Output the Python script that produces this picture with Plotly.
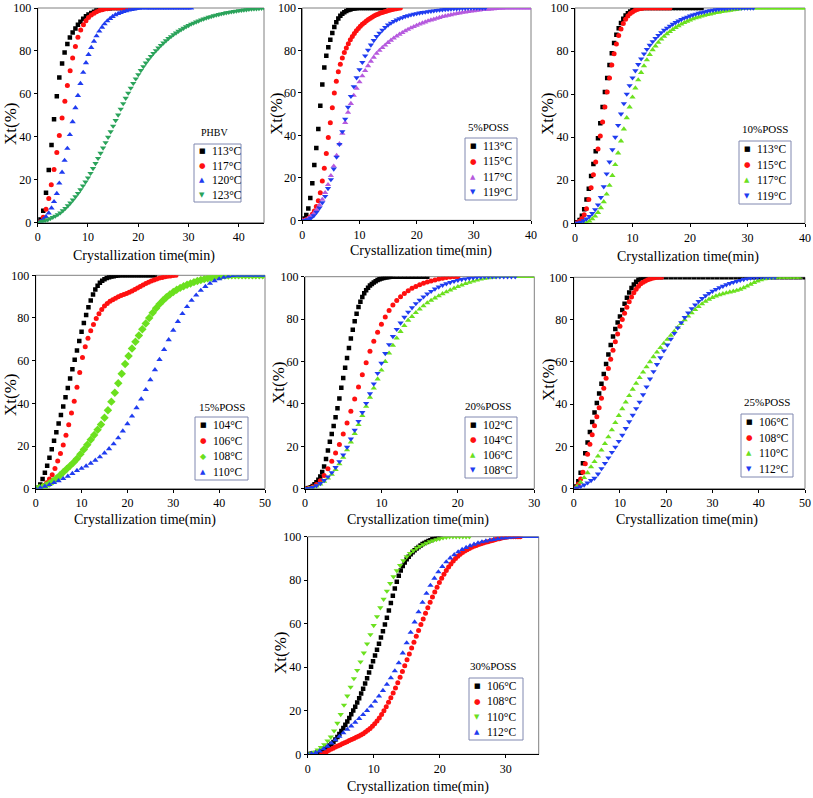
import plotly.graph_objects as go

# ---------------- shared time grids (min) ----------------
G05 = [0, 0.5, 1, 1.5, 2, 2.5, 3, 3.5, 4, 4.5, 5, 5.5, 6, 6.5, 7, 7.5, 8, 8.5, 9, 9.5,
       10, 10.5, 11, 11.5, 12, 12.5, 13, 13.5, 14, 14.5, 15, 15.5, 16, 16.5, 17, 17.5, 18, 18.5, 19, 19.5,
       20, 20.5, 21, 21.5, 22, 22.5, 23, 23.5, 24, 24.5, 25, 25.5, 26, 26.5, 27, 27.5, 28, 28.5, 29, 29.5,
       30, 30.5, 31, 31.5, 32, 32.5, 33, 33.5, 34, 34.5, 35, 35.5, 36, 36.5, 37, 37.5, 38, 38.5, 39, 39.5,
       40, 40.5, 41, 41.5, 42, 42.5, 43, 43.5, 44, 44.5, 45, 45.5, 46, 46.5, 47, 47.5, 48, 48.5, 49, 49.5, 50]
G035 = [0, 0.35, 0.7, 1.05, 1.4, 1.75, 2.1, 2.45, 2.8, 3.15, 3.5, 3.85, 4.2, 4.55, 4.9, 5.25, 5.6, 5.95,
        6.3, 6.65, 7.0, 7.35, 7.7, 8.05, 8.4, 8.75, 9.1, 9.45, 9.8, 10.15, 10.5, 10.85, 11.2, 11.55, 11.9,
        12.25, 12.6, 12.95, 13.3, 13.65, 14.0, 14.35, 14.7, 15.05, 15.4, 15.75, 16.1, 16.45, 16.8, 17.15]
G04 = [0, 0.4, 0.8, 1.2, 1.6, 2.0, 2.4, 2.8, 3.2, 3.6, 4.0, 4.4, 4.8, 5.2, 5.6, 6.0, 6.4, 6.8, 7.2, 7.6,
       8.0, 8.4, 8.8, 9.2, 9.6, 10.0, 10.4, 10.8, 11.2, 11.6, 12.0]
G075 = [0, 0.75, 1.5, 2.25, 3.0, 3.75, 4.5, 5.25, 6.0, 6.75, 7.5, 8.25, 9.0, 9.75, 10.5, 11.25, 12.0,
        12.75, 13.5, 14.25, 15.0, 15.75, 16.5, 17.25, 18.0, 18.75, 19.5, 20.25, 21.0, 21.75, 22.5, 23.25,
        24.0, 24.75, 25.5, 26.25, 27.0, 27.75, 28.5, 29.25, 30.0, 30.75, 31.5, 32.25, 33.0, 33.75, 34.5,
        35.25, 36.0, 36.75, 37.5, 38.25, 39.0, 39.75, 40.5, 41.25, 42.0, 42.75, 43.5, 44.25, 45.0, 45.75,
        46.5, 47.25, 48.0, 48.75, 49.5]
G1 = [0, 1, 2, 3, 4, 5, 6, 7, 8, 9, 10, 11, 12, 13, 14, 15, 16, 17, 18, 19, 20, 21, 22, 23, 24, 25,
      26, 27, 28, 29, 30, 31, 32, 33, 34, 35, 36, 37, 38, 39, 40, 41, 42, 43, 44, 45, 46, 47, 48, 49, 50]
G025 = [0, 0.25, 0.5, 0.75, 1.0, 1.25, 1.5, 1.75, 2.0, 2.25, 2.5, 2.75, 3.0, 3.25, 3.5, 3.75, 4.0, 4.25,
        4.5, 4.75, 5.0, 5.25, 5.5, 5.75, 6.0, 6.25, 6.5, 6.75, 7.0, 7.25, 7.5, 7.75, 8.0, 8.25, 8.5, 8.75,
        9.0, 9.25, 9.5, 9.75, 10.0, 10.25, 10.5, 10.75, 11.0, 11.25, 11.5]
G03 = [0, 0.3, 0.6, 0.9, 1.2, 1.5, 1.8, 2.1, 2.4, 2.7, 3.0, 3.3, 3.6, 3.9, 4.2, 4.5, 4.8, 5.1, 5.4, 5.7,
       6.0, 6.3, 6.6, 6.9, 7.2, 7.5, 7.8, 8.1, 8.4, 8.7, 9.0, 9.3, 9.6, 9.9, 10.2, 10.5, 10.8, 11.1, 11.4,
       11.7, 12.0, 12.3, 12.6, 12.9, 13.2, 13.5, 13.8, 14.1, 14.4, 14.7, 15.0, 15.3, 15.6, 15.9, 16.2,
       16.5, 16.8, 17.1, 17.4, 17.7, 18.0, 18.3, 18.6, 18.9, 19.2, 19.5, 19.8, 20.1]
G06 = [0, 0.6, 1.2, 1.8, 2.4, 3.0, 3.6, 4.2, 4.8, 5.4, 6.0, 6.6, 7.2, 7.8, 8.4, 9.0, 9.6, 10.2, 10.8,
       11.4, 12.0, 12.6, 13.2, 13.8, 14.4, 15.0, 15.6, 16.2, 16.8, 17.4, 18.0, 18.6, 19.2, 19.8, 20.4,
       21.0, 21.6, 22.2, 22.8, 23.4, 24.0, 24.6, 25.2, 25.8, 26.4, 27.0, 27.6, 28.2, 28.8, 29.4, 30.0,
       30.6, 31.2, 31.8, 32.4, 33.0, 33.6, 34.2, 34.8]

# ---------------- Panel 1: PHBV ----------------
phbv_113_t = [0, 0.55, 1.1, 1.65, 2.2, 2.75, 3.25, 3.8, 4.3, 4.85, 5.35, 5.9, 6.4, 6.95, 7.5, 8.0, 8.5,
              9.05, 9.6, 10.1, 10.65, 11.2, 11.7, 12.25, 12.8, 13.3, 13.85, 14.4, 14.9, 15.5, 16.0, 16.5,
              17.0, 17.5, 18.0, 18.5, 19.0]
phbv_113_y = [0, 1.5, 5.6, 13.9, 24.6, 36.2, 48.2, 58.9, 67.6, 74.2, 79.3, 83.2, 86.3, 88.6, 90.5, 92.2,
              93.6, 95.0, 96.1, 97.0, 97.7, 98.3, 98.8, 99.2, 99.5, 99.7, 99.8, 99.9, 100, 100, 100, 100,
              100, 100, 100, 100, 100]
phbv_117_t = [0, 0.55, 1.1, 1.65, 2.2, 2.7, 3.25, 3.8, 4.3, 4.85, 5.4, 5.9, 6.45, 6.95, 7.5, 8.0, 8.55,
              9.1, 9.6, 10.1, 10.65, 11.2, 11.7, 12.25, 12.8, 13.3, 13.85, 14.4, 15.0, 15.5, 16.0, 16.5,
              17.0, 17.5, 18.0, 18.5]
phbv_117_y = [0, 0.5, 2.5, 6.3, 11.3, 17.7, 24.8, 32.7, 40.6, 48.8, 56.6, 63.9, 70.8, 76.7, 82.1, 86.4,
              89.7, 92.2, 94.1, 95.6, 96.7, 97.6, 98.3, 98.8, 99.2, 99.5, 99.7, 99.85, 100, 100, 100, 100,
              100, 100, 100, 100]
phbv_120_t = [0, 0.55, 1.1, 1.65, 2.2, 2.75, 3.25, 3.8, 4.3, 4.85, 5.35, 5.9, 6.4, 6.95, 7.5, 8.0, 8.5,
              9.05, 9.6, 10.1, 10.65, 11.2, 11.7, 12.25, 12.8, 13.3, 13.85, 14.4, 14.9, 15.45, 16.0, 16.5,
              17.05, 17.6, 18.1, 18.65, 19.2, 19.7, 20.25, 20.8, 21.5, 22.0, 22.5, 23.0, 23.5, 24.0, 24.5,
              25.0, 25.5, 26.0, 26.5, 27.0, 27.5, 28.0, 28.5, 29.0, 29.5, 30.0, 30.5]
phbv_120_y = [0, 0.6, 1.5, 2.8, 4.5, 6.8, 9.8, 13.6, 18.4, 23.5, 29, 34.6, 41, 47, 53.5, 59.2, 64.8, 70,
              74.5, 78.3, 81.6, 84.5, 87, 89.2, 91, 92.6, 94, 95.1, 96, 96.8, 97.4, 97.9, 98.3, 98.7, 99,
              99.3, 99.5, 99.7, 99.8, 99.9, 100, 100, 100, 100, 100, 100, 100, 100, 100, 100, 100, 100,
              100, 100, 100, 100, 100, 100, 100]
phbv_123_t = G05[:91]
phbv_123_y = [0, 0.3, 0.6, 1.0, 1.4, 1.9, 2.5, 3.1, 3.8, 4.6, 5.6, 6.7, 7.9, 9.2, 10.6, 12.1, 13.7, 15.4,
              17.2, 19.0, 20.9, 23.0, 25.3, 27.6, 30.0, 32.4, 34.8, 37.3, 39.8, 42.4, 45.0, 47.6, 50.2,
              52.9, 55.5, 58.0, 60.4, 62.7, 64.9, 67.0, 69.0, 70.9, 72.7, 74.4, 76.0, 77.5, 78.9, 80.2,
              81.4, 82.6, 83.7, 84.8, 85.8, 86.7, 87.6, 88.4, 89.2, 89.9, 90.6, 91.3, 91.9, 92.5, 93.0,
              93.5, 94.0, 94.5, 94.9, 95.3, 95.7, 96.0, 96.4, 96.7, 97.0, 97.3, 97.5, 97.8, 98.0, 98.2,
              98.4, 98.6, 98.8, 98.9, 99.1, 99.2, 99.4, 99.5, 99.6, 99.7, 99.8, 99.9, 100]

# ---------------- Panel 2: 5%POSS ----------------
p5_113_t = G035[:42]
p5_113_y = [0, 0.8, 2.5, 5.5, 10.5, 17.5, 26, 34, 43, 54, 64, 72, 77.5, 81.5, 85, 88.2, 91, 93.3, 95.0,
            96.3, 97.3, 98.0, 98.6, 99.0, 99.3, 99.6, 99.8, 99.9, 100, 100, 100, 100, 100, 100, 100, 100,
            100, 100, 100, 100, 100, 100]
p5_115_t = G035[:50]
p5_115_y = [0, 0, 0.3, 0.8, 1.6, 2.8, 4.4, 6.5, 9.2, 13, 18.5, 24.5, 31.5, 39, 46, 53, 60, 65.5, 70, 73.5,
            76.5, 79, 81.2, 83.2, 85, 86.6, 88, 89.3, 90.4, 91.4, 92.3, 93.1, 93.9, 94.6, 95.2, 95.8, 96.3,
            96.8, 97.2, 97.6, 97.9, 98.2, 98.5, 98.8, 99.0, 99.3, 99.5, 99.7, 99.9, 100]
p5_117_t = G05[:81]
p5_117_y = [0, 0.2, 0.8, 1.8, 3.2, 5.0, 7.2, 9.8, 13.0, 16.8, 21.0, 25.5, 30.5, 36.0, 41.0, 46.0, 50.8,
            55.0, 58.8, 62.2, 65.2, 68.0, 70.5, 72.8, 74.9, 76.8, 78.6, 80.0, 81.3, 82.5, 83.7, 84.8, 85.8,
            86.7, 87.6, 88.4, 89.2, 89.9, 90.6, 91.2, 91.8, 92.4, 92.9, 93.4, 93.9, 94.3, 94.7, 95.1, 95.5,
            95.9, 96.2, 96.5, 96.8, 97.1, 97.4, 97.6, 97.9, 98.1, 98.3, 98.5, 98.7, 98.9, 99.0, 99.2, 99.3,
            99.4, 99.5, 99.6, 99.7, 99.8, 99.85, 99.9, 99.95, 100, 100, 100, 100, 100, 100, 100, 100]
p5_119_t = G05[:65]
p5_119_y = [0, 0, 0.3, 1.0, 2.2, 3.8, 5.8, 8.3, 11.3, 15.0, 19.2, 24.2, 29.8, 35.8, 41.8, 47.7, 53.3,
            58.4, 63.0, 67.2, 71.0, 74.4, 77.5, 80.2, 82.6, 84.7, 86.6, 88.2, 89.6, 90.9, 92.0, 92.9, 93.7,
            94.4, 95.0, 95.5, 96.0, 96.4, 96.8, 97.1, 97.4, 97.7, 97.9, 98.1, 98.3, 98.5, 98.7, 98.9, 99.0,
            99.2, 99.3, 99.4, 99.5, 99.6, 99.7, 99.8, 99.85, 99.9, 100, 100, 100, 100, 100, 100, 100]

# ---------------- Panel 3: 10%POSS ----------------
p10_113_t = G04[:30] + G05[24:45]
p10_113_y = [0, 0.5, 1.5, 3.5, 6.5, 11, 16, 22, 27.5, 33.5, 39.5, 46.5, 54, 61, 67.5, 73.5, 79, 83.8,
             87.6, 90.6, 93.0, 95.0, 96.5, 97.6, 98.4, 99.0, 99.4, 99.7, 99.9, 100,
             100, 100, 100, 100, 100, 100, 100, 100, 100, 100, 100, 100, 100, 100, 100, 100, 100, 100,
             100, 100, 100]
p10_115_t = G04[:31] + G05[25:34]
p10_115_y = [0, 0.3, 1.0, 2.2, 4.0, 6.8, 11, 16.5, 22.5, 28.5, 34.5, 40.5, 47, 54, 61, 67.5, 73.5, 78.8,
             83.3, 87.2, 90.3, 92.8, 94.8, 96.3, 97.4, 98.2, 98.8, 99.3, 99.6, 99.8, 100,
             100, 100, 100, 100, 100, 100, 100, 100, 100]
p10_117_t = G05[3:81]
p10_117_y = [0, 0.3, 1.0, 2.0, 3.3, 5.0, 7.2, 10.0, 13.5, 17.6, 22.2, 27.2, 32.6, 38.2, 43.8, 49.0, 54.0,
             58.6, 62.8, 66.6, 70.0, 73.1, 75.9, 78.4, 80.6, 82.3, 84.0, 85.5, 86.8, 88.0, 89.0, 90.0,
             90.9, 91.7, 92.5, 93.2, 93.8, 94.4, 94.9, 95.4, 95.8, 96.2, 96.6, 96.9, 97.2, 97.5, 97.8,
             98.0, 98.3, 98.5, 98.7, 98.9, 99.1, 99.3, 99.5, 99.7, 99.8, 99.9, 100, 100, 100, 100, 100,
             100, 100, 100, 100, 100, 100, 100, 100, 100, 100, 100, 100, 100, 100, 100]
p10_119_t = G05[:63]
p10_119_y = [0, 0.2, 0.6, 1.2, 2.0, 3.2, 4.6, 6.4, 8.6, 12, 17, 23, 28.5, 34.2, 40, 45.5, 50.8, 55.6, 60,
             64, 67.6, 70.9, 73.8, 76.4, 78.7, 80.8, 82.7, 84.4, 85.9, 87.3, 88.6, 89.7, 90.7, 91.6, 92.5,
             93.3, 94.0, 94.7, 95.3, 95.8, 96.3, 96.8, 97.2, 97.6, 97.9, 98.2, 98.5, 98.8, 99.0, 99.2,
             99.4, 99.6, 99.7, 99.8, 99.9, 100, 100, 100, 100, 100, 100, 100, 100]

# ---------------- Panel 4: 15%POSS ----------------
p15_104_t = G05[:53]
p15_104_y = [0, 0.5, 2.0, 4.5, 7.5, 10.8, 14.5, 18.5, 22.5, 26.5, 30.5, 34.5, 38.5, 42.8, 47.2, 51.6,
             56.0, 60.4, 64.8, 69.2, 73.5, 77.6, 81.4, 85.0, 88.2, 91.0, 93.3, 95.1, 96.5, 97.5, 98.2,
             98.7, 99.1, 99.4, 99.6, 99.8, 99.9, 100, 100, 100, 100, 100, 100, 100, 100, 100, 100, 100,
             100, 100, 100, 100, 100]
p15_106_t = G06[:52]
p15_106_y = [0, 0.2, 0.6, 1.5, 2.8, 4.5, 6.5, 9.5, 13, 16.5, 20.5, 25, 30, 35.5, 41, 47.5, 54.5, 61.5,
             66.5, 70.5, 74, 77, 79.7, 82, 84, 85.6, 86.8, 87.8, 88.6, 89.3, 89.9, 90.5, 91.0, 91.5, 92.0,
             92.6, 93.3, 94.0, 94.8, 95.5, 96.1, 96.7, 97.3, 97.8, 98.3, 98.7, 99.0, 99.3, 99.5, 99.7,
             99.9, 100]
p15_108_t = G075[:67]
p15_108_y = [0, 0.3, 0.8, 1.5, 2.4, 3.5, 4.8, 6.2, 7.7, 9.2, 10.7, 12.3, 14.0, 16.2, 18.4, 20.6, 22.9,
             25.2, 27.6, 30.1, 33.2, 36.8, 40.8, 45.0, 49.4, 53.9, 58.4, 62.2, 65.7, 68.9, 71.8, 74.7,
             77.4, 80.0, 82.4, 84.6, 86.5, 88.2, 89.7, 91.0, 92.2, 93.2, 94.1, 94.9, 95.6, 96.2, 96.8,
             97.3, 97.8, 98.2, 98.6, 98.9, 99.2, 99.5, 99.7, 99.85, 99.95, 100, 100, 100, 100, 100, 100,
             100, 100, 100, 100]
p15_110_t = G1[:51]
p15_110_y = [0, 0.4, 1.1, 1.9, 2.8, 3.7, 4.7, 5.8, 7.1, 8.5, 9.5, 10.6, 11.9, 13.3, 14.9, 16.7, 18.7,
             21.0, 23.8, 27.0, 30.4, 34.0, 37.9, 42.0, 46.4, 51.0, 55.7, 60.5, 65.2, 69.8, 74.2, 78.3,
             82.0, 85.3, 88.2, 90.7, 92.9, 94.7, 96.2, 97.4, 98.3, 99.0, 99.5, 99.8, 99.95, 100, 100, 100,
             100, 100, 100]

# ---------------- Panel 5: 20%POSS ----------------
p20_102_t = G025[:47] + G05[24:33]
p20_102_y = [0, 0.1, 0.3, 0.7, 1.3, 2.1, 3.0, 4.2, 5.8, 7.9, 10.5, 14.0, 18.0, 22.2, 25.8, 29.6, 33.7,
             38.0, 42.6, 47.6, 52.2, 57.0, 61.7, 66.4, 70.8, 75.0, 79.0, 82.5, 85.7, 88.2, 90.4, 92.2,
             93.6, 94.8, 95.8, 96.6, 97.3, 97.9, 98.4, 98.8, 99.1, 99.4, 99.6, 99.75, 99.85, 99.95, 100,
             100, 100, 100, 100, 100, 100, 100, 100, 100]
p20_104_t = G05[:41]
p20_104_y = [0, 0.2, 0.8, 2.0, 3.8, 6.2, 9.4, 13.0, 16.8, 20.8, 25.8, 31.0, 36.5, 42.3, 48.0, 53.8, 59.4,
             64.8, 69.6, 73.8, 77.6, 81.0, 84.0, 86.6, 88.8, 90.6, 92.1, 93.4, 94.5, 95.4, 96.2, 96.9,
             97.5, 98.0, 98.5, 98.9, 99.3, 99.6, 99.8, 100, 100]
p20_106_t = G05[:61]
p20_106_y = [0, 0.1, 0.5, 1.2, 2.2, 3.5, 5.0, 6.8, 9.0, 11.7, 14.8, 18.3, 22.0, 26.0, 30.2, 34.5, 38.8,
             43.1, 47.4, 51.7, 55.9, 60.0, 63.9, 67.6, 71.0, 74.1, 76.9, 79.4, 81.2, 83.0, 84.7, 86.2,
             87.6, 88.8, 89.9, 90.9, 91.9, 92.8, 93.7, 94.5, 95.3, 96.0, 96.7, 97.3, 97.9, 98.4, 98.8,
             99.2, 99.5, 99.7, 99.9, 100, 100, 100, 100, 100, 100, 100, 100, 100, 100]
p20_108_t = G05[:56]
p20_108_y = [0, 0.1, 0.6, 1.4, 2.5, 3.9, 5.6, 7.6, 10.0, 12.8, 16.0, 19.6, 23.5, 27.6, 31.8, 36.0, 40.3,
             44.8, 49.5, 54.4, 59.2, 63.8, 68.0, 71.8, 75.2, 78.2, 80.9, 83.3, 85.4, 87.3, 89.0, 90.5,
             91.9, 93.1, 94.2, 95.2, 96.0, 96.7, 97.3, 97.8, 98.3, 98.7, 99.0, 99.3, 99.5, 99.7, 99.85,
             100, 100, 100, 100, 100, 100, 100, 100, 100]

# ---------------- Panel 6: 25%POSS ----------------
p25_106_t = G05[:32] + G1[16:51]
p25_106_y = [0, 1.0, 3.5, 7.5, 12.0, 16.8, 21.8, 26.8, 31.5, 36.0, 40.5, 45.0, 49.6, 54.2, 59.0, 63.5,
             68.0, 72.0, 75.5, 78.6, 81.5, 84.5, 87.5, 90.3, 92.8, 94.9, 96.6, 97.9, 98.9, 99.5, 99.9, 100,
             100, 100, 100, 100, 100, 100, 100, 100, 100, 100, 100, 100, 100, 100, 100, 100, 100, 100,
             100, 100, 100, 100, 100, 100, 100, 100, 100, 100, 100, 100, 100, 100, 100, 100, 100]
p25_108_t = G05[:39]
p25_108_y = [0, 0.6, 2.2, 4.6, 7.8, 11.8, 16.3, 21.0, 25.5, 29.8, 34.0, 38.3, 42.8, 47.5, 52.2, 56.8,
             61.2, 65.5, 69.5, 73.2, 76.8, 80.0, 83.0, 85.8, 88.4, 90.7, 92.7, 94.4, 95.8, 96.9, 97.7,
             98.3, 98.8, 99.2, 99.5, 99.8, 100, 100, 100]
p25_110_t = G075[:66]
p25_110_y = [0, 1.2, 3.0, 5.2, 7.5, 10.3, 12.8, 15.4, 18.2, 21.3, 24.5, 27.8, 31.2, 34.6, 37.8, 40.9,
             44.0, 47.0, 49.8, 52.5, 55.1, 57.6, 60.0, 62.4, 64.6, 66.7, 68.7, 70.6, 72.5, 74.4, 76.3,
             78.1, 79.9, 81.6, 83.2, 84.7, 86.1, 87.4, 88.6, 89.6, 90.4, 91.1, 91.7, 92.2, 92.6, 93.0,
             93.4, 93.8, 94.3, 95.0, 95.8, 96.7, 97.5, 98.2, 98.8, 99.2, 99.5, 99.7, 99.85, 99.95, 100,
             100, 100, 100, 100, 100]
p25_112_t = G075[:59]
p25_112_y = [0, 0.4, 1.0, 1.8, 2.8, 3.9, 5.0, 7.0, 9.5, 12.0, 14.6, 17.2, 19.7, 22.4, 25.3, 28.5, 31.7,
             34.8, 37.9, 41.0, 44.5, 48.2, 51.9, 55.4, 58.8, 62.0, 65.2, 68.0, 70.8, 73.5, 76.1, 78.6,
             81.0, 83.2, 85.2, 87.0, 88.6, 90.0, 91.3, 92.4, 93.4, 94.3, 95.1, 95.8, 96.5, 97.1, 97.6,
             98.1, 98.6, 99.0, 99.4, 99.7, 99.9, 100, 100, 100, 100, 100, 100]

# ---------------- Panel 7: 30%POSS ----------------
p30_106_t = G03[:68]
p30_106_y = [0, 0.1, 0.2, 0.4, 0.6, 0.9, 1.2, 1.6, 2.0, 2.6, 3.3, 4.0, 4.8, 5.7, 6.8, 8.0, 9.3, 10.7,
             12.1, 13.6, 15.1, 16.7, 18.4, 20.1, 21.9, 23.8, 25.8, 27.9, 30.1, 32.5, 35.0, 37.6, 40.2,
             42.8, 45.4, 48.1, 50.8, 53.7, 56.6, 59.6, 62.8, 66.1, 69.5, 72.9, 76.2, 79.3, 82.1, 84.5,
             86.5, 88.2, 89.6, 90.8, 91.9, 92.9, 93.8, 94.6, 95.3, 96.0, 96.6, 97.1, 97.6, 98.0, 98.4,
             98.8, 99.1, 99.4, 99.7, 100]
p30_108_t = [2.1, 2.45, 2.8, 3.15, 3.5, 3.85, 4.2, 4.55, 4.9, 5.25, 5.6, 5.95, 6.3, 6.65, 7.0, 7.35, 7.7,
             8.05, 8.4, 8.75, 9.1, 9.45, 9.8, 10.15, 10.5, 10.85, 11.2, 11.55, 11.9, 12.25, 12.6, 12.95,
             13.3, 13.65, 14.0, 14.35, 14.7, 15.05, 15.4, 15.75, 16.1, 16.45, 16.8, 17.15, 17.5, 17.85,
             18.2, 18.55, 18.9, 19.25, 19.6, 19.95, 20.3, 20.65, 21.0, 21.35, 21.7, 22.05, 22.4, 22.75,
             23.1, 23.45, 23.8, 24.15, 24.5, 24.85, 25.2, 25.55, 25.9, 26.25, 26.6, 26.95, 27.3, 27.65,
             28.0, 28.35, 28.7, 29.05, 29.4, 29.75, 30.1, 30.45, 30.8, 31.15, 31.5, 31.85, 32.2]
p30_108_y = [0, 0.5, 1.1, 1.7, 2.3, 2.8, 3.3, 3.8, 4.3, 4.8, 5.3, 5.8, 6.3, 6.8, 7.3, 7.8, 8.3, 8.9, 9.5,
             10.2, 11.0, 11.9, 12.9, 14.0, 15.3, 16.7, 18.3, 20.0, 21.9, 23.9, 26.0, 28.2, 30.5, 32.9,
             35.4, 38.0, 40.7, 43.4, 46.1, 48.8, 51.5, 54.2, 56.9, 59.6, 62.2, 64.8, 67.4, 69.9, 72.3,
             74.6, 76.8, 78.9, 80.9, 82.8, 84.5, 86.1, 87.5, 88.8, 90.0, 91.0, 91.9, 92.7, 93.4, 94.0,
             94.6, 95.1, 95.6, 96.0, 96.4, 96.8, 97.1, 97.4, 97.7, 98.0, 98.3, 98.6, 98.9, 99.1, 99.4,
             99.6, 99.8, 100, 100, 100, 100, 100, 100]
p30_110_t = G05[:50]
p30_110_y = [0, 0.3, 1.0, 2.0, 3.2, 4.5, 6.2, 8.0, 10.8, 14.3, 18.3, 22.6, 26.8, 30.9, 34.8, 38.6, 42.5,
             46.6, 50.8, 55.0, 59.2, 63.3, 67.4, 71.3, 75.0, 78.5, 81.6, 84.4, 86.8, 89.0, 90.8, 92.3,
             93.6, 94.7, 95.6, 96.4, 97.1, 97.7, 98.2, 98.7, 99.1, 99.5, 99.8, 100, 100, 100, 100, 100,
             100, 100]
p30_112_t = G06[:59]
p30_112_y = [0, 0.2, 0.7, 1.5, 2.5, 3.7, 5.1, 6.6, 8.2, 9.8, 11.4, 13.0, 14.7, 16.4, 18.2, 20.1, 22.1,
             24.3, 26.7, 29.3, 32.1, 35.1, 38.3, 42.0, 46.5, 51.2, 56.0, 60.8, 65.4, 69.8, 73.9, 77.6,
             80.9, 83.8, 86.3, 88.4, 90.2, 91.7, 93.0, 94.1, 95.0, 95.8, 96.5, 97.1, 97.6, 98.0, 98.4,
             98.7, 99.0, 99.3, 99.5, 99.7, 99.85, 100, 100, 100, 100, 100, 100]

# ---------------- panel labels / axis ranges ----------------
panel_titles = ["PHBV", "5%POSS", "10%POSS", "15%POSS", "20%POSS", "25%POSS", "30%POSS"]
x_max = [45, 40, 40, 50, 30, 50, 35]
y_ticks = [0, 20, 40, 60, 80, 100]
x_title = "Crystallization time(min)"
y_title = "Xt(%)"

BLACK, RED, BLUE = "#000000", "#ff1010", "#1f3cf0"
TEAL, VIOLET, LIME = "#2aa35a", "#b65ade", "#6be01e"

series = [
    # (panel, name, t, y, color, symbol)
    (0, "113°C", phbv_113_t, phbv_113_y, BLACK, "square"),
    (0, "117°C", phbv_117_t, phbv_117_y, RED, "circle"),
    (0, "120°C", phbv_120_t, phbv_120_y, BLUE, "triangle-up"),
    (0, "123°C", phbv_123_t, phbv_123_y, TEAL, "triangle-down"),
    (1, "113°C", p5_113_t, p5_113_y, BLACK, "square"),
    (1, "115°C", p5_115_t, p5_115_y, RED, "circle"),
    (1, "117°C", p5_117_t, p5_117_y, VIOLET, "triangle-up"),
    (1, "119°C", p5_119_t, p5_119_y, BLUE, "triangle-down"),
    (2, "113°C", p10_113_t, p10_113_y, BLACK, "square"),
    (2, "115°C", p10_115_t, p10_115_y, RED, "circle"),
    (2, "117°C", p10_117_t, p10_117_y, LIME, "triangle-up"),
    (2, "119°C", p10_119_t, p10_119_y, BLUE, "triangle-down"),
    (3, "104°C", p15_104_t, p15_104_y, BLACK, "square"),
    (3, "106°C", p15_106_t, p15_106_y, RED, "circle"),
    (3, "108°C", p15_108_t, p15_108_y, LIME, "diamond"),
    (3, "110°C", p15_110_t, p15_110_y, BLUE, "triangle-up"),
    (4, "102°C", p20_102_t, p20_102_y, BLACK, "square"),
    (4, "104°C", p20_104_t, p20_104_y, RED, "circle"),
    (4, "106°C", p20_106_t, p20_106_y, LIME, "triangle-up"),
    (4, "108°C", p20_108_t, p20_108_y, BLUE, "triangle-down"),
    (5, "106°C", p25_106_t, p25_106_y, BLACK, "square"),
    (5, "108°C", p25_108_t, p25_108_y, RED, "circle"),
    (5, "110°C", p25_110_t, p25_110_y, LIME, "triangle-up"),
    (5, "112°C", p25_112_t, p25_112_y, BLUE, "triangle-down"),
    (6, "106°C", p30_106_t, p30_106_y, BLACK, "square"),
    (6, "108°C", p30_108_t, p30_108_y, RED, "circle"),
    (6, "110°C", p30_110_t, p30_110_y, LIME, "triangle-down"),
    (6, "112°C", p30_112_t, p30_112_y, BLUE, "triangle-up"),
]

MARKER_SIZE = {"square": 4.5, "circle": 5, "triangle-up": 5.5, "triangle-down": 5.5, "diamond": 6.5}
GLYPH = {"square": "■", "circle": "●", "triangle-up": "▲", "triangle-down": "▼", "diamond": "◆"}
GLYPH_SIZE = {"square": 7, "circle": 7.5, "triangle-up": 7, "triangle-down": 7, "diamond": 8}

# ---------------- layout geometry (pixels in 813 x 798) ----------------
W, H = 813, 798
plot_px = [  # left, right, top, bottom
    (37.7, 264.0, 8.0, 222.7),
    (302.3, 531.0, 8.0, 220.3),
    (575.0, 805.0, 8.0, 223.3),
    (35.7, 265.0, 275.3, 488.7),
    (305.0, 534.3, 276.7, 488.7),
    (573.7, 805.0, 277.3, 488.7),
    (307.7, 538.7, 536.7, 754.3),
]
legend_box = [(194, 144, 241, 202), (465, 138, 517, 200), (739, 141, 791, 204),
              (195, 417, 248, 480), (465, 417, 517, 478), (741, 414, 793, 477), (469, 678, 523, 740)]
title_px = [(214, 132), (489, 127), (765, 129), (222, 407), (488, 406), (767, 402), (493, 666)]
ytitle_px = [(10, 124), (277, 114), (548, 114), (10, 395), (278, 383), (548, 380), (280, 653)]
xtitle_px = [(144, 256), (421, 251), (688, 256.5), (145, 520), (418, 520), (687, 520), (418, 787)]

FONT = "Liberation Serif, Times New Roman, serif"
fig = go.Figure()

for (p, name, t, y, col, sym) in series:
    sfx = "" if p == 0 else str(p + 1)
    fig.add_trace(go.Scatter(
        x=t, y=y, mode="markers", name=name, showlegend=False,
        marker=dict(color=col, symbol=sym, size=MARKER_SIZE[sym], line=dict(width=0)),
        xaxis="x" + sfx, yaxis="y" + sfx, hoverinfo="skip",
    ))

layout = dict(
    width=W, height=H, margin=dict(l=0, r=0, t=0, b=0),
    paper_bgcolor="white", plot_bgcolor="white",
    font=dict(family=FONT, color="black", size=12),
    showlegend=False,
)
annotations = []
shapes = []


def px(xp):
    return xp / W


def py(yp):
    return 1 - yp / H


for i, (l, r, tp, bt) in enumerate(plot_px):
    sfx = "" if i == 0 else str(i + 1)
    layout["xaxis" + sfx] = dict(
        domain=[px(l), px(r)], anchor="y" + sfx, range=[0, x_max[i]], dtick=10, tick0=0,
        showgrid=False, zeroline=False, showline=True, linecolor="black", linewidth=1,
        ticks="outside", ticklen=3, tickcolor="black",
        tickfont=dict(family=FONT, size=12, color="black"),
        automargin=False, fixedrange=True,
    )
    layout["yaxis" + sfx] = dict(
        domain=[py(bt), py(tp)], anchor="x" + sfx, range=[0, 100], tickvals=y_ticks,
        showgrid=False, zeroline=False, showline=True, linecolor="black", linewidth=1,
        ticks="outside", ticklen=3, tickcolor="black",
        tickfont=dict(family=FONT, size=12, color="black"),
        automargin=False, fixedrange=True,
    )
    shapes.append(dict(type="rect", xref="x" + sfx + " domain", yref="y" + sfx + " domain",
                       x0=0, x1=1, y0=0, y1=1, line=dict(color="#808080", width=1), layer="below"))
    # axis titles
    xt, yt = xtitle_px[i]
    annotations.append(dict(text=x_title, x=px(xt), y=py(yt), xref="paper", yref="paper",
                            showarrow=False, xanchor="center", yanchor="middle",
                            font=dict(family=FONT, size=14, color="black")))
    xt, yt = ytitle_px[i]
    annotations.append(dict(text=y_title, x=px(xt), y=py(yt), xref="paper", yref="paper",
                            showarrow=False, xanchor="center", yanchor="middle", textangle=-90,
                            font=dict(family=FONT, size=17, color="black")))
    # panel label above legend box
    tx, ty = title_px[i]
    annotations.append(dict(text=panel_titles[i], x=px(tx), y=py(ty), xref="paper", yref="paper",
                            showarrow=False, xanchor="center", yanchor="middle",
                            font=dict(family=FONT, size=11 if i else 10, color="black")))
    # legend box
    bx0, by0, bx1, by1 = legend_box[i]
    shapes.append(dict(type="rect", xref="paper", yref="paper", x0=px(bx0), x1=px(bx1),
                       y0=py(by1), y1=py(by0), line=dict(color="#8088b0", width=1),
                       fillcolor="white", layer="above"))

# legend entries (one per series, in panel order)
counter = {}
for (p, name, t, y, col, sym) in series:
    k = counter.get(p, 0)
    counter[p] = k + 1
    bx0, by0, bx1, by1 = legend_box[p]
    step = (by1 - by0) / 4.0
    ey = by0 + step * (k + 0.5)
    annotations.append(dict(text=GLYPH[sym], x=px(bx0 + 8), y=py(ey), xref="paper", yref="paper",
                            showarrow=False, xanchor="center", yanchor="middle",
                            font=dict(family="DejaVu Sans", size=GLYPH_SIZE[sym], color=col)))
    annotations.append(dict(text=name, x=px(bx0 + 16), y=py(ey), xref="paper", yref="paper",
                            showarrow=False, xanchor="left", yanchor="middle",
                            font=dict(family=FONT, size=11.5, color="black")))

layout["annotations"] = annotations
layout["shapes"] = shapes
fig.update_layout(**layout)

fig.write_html("out.html", config={"displayModeBar": False, "staticPlot": True},
               post_script="document.body.style.margin='0px';")
